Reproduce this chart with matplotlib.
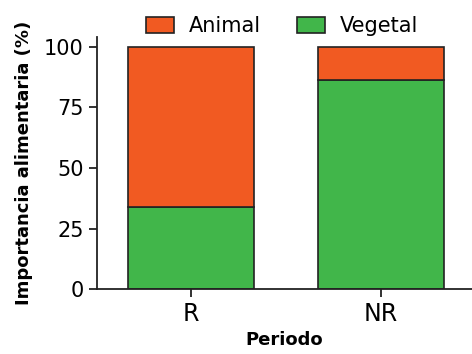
import matplotlib
matplotlib.use("Agg")
import matplotlib.pyplot as plt

periodos = ["R", "NR"]
vegetal = [34.0, 86.5]
animal = [66.0, 13.5]

c_animal = "#F15A22"
c_vegetal = "#41B64A"

fig = plt.figure(figsize=(4.72, 3.54), dpi=100)
ax = fig.add_axes([0.2055, 0.1836, 0.7945, 0.711])

x = range(len(periodos))
ax.bar(x, vegetal, width=0.66, color=c_vegetal, edgecolor="#222222", linewidth=1.2, label="Vegetal")
ax.bar(x, animal, width=0.66, bottom=vegetal, color=c_animal, edgecolor="#222222", linewidth=1.2, label="Animal")

ax.set_xlim(-0.495, 1.48)
ax.set_ylim(0, 104)
ax.set_yticks([0, 25, 50, 75, 100])
ax.set_xticks(list(x))
ax.set_xticklabels(periodos)

for s in ["top", "right"]:
	ax.spines[s].set_visible(False)
for s in ["left", "bottom"]:
	ax.spines[s].set_linewidth(1.3)
	ax.spines[s].set_color("#222222")

ax.tick_params(axis="both", width=1.3, length=6, color="#222222")
ax.tick_params(axis="y", labelsize=15, pad=3.5)
ax.tick_params(axis="x", labelsize=17, pad=3)

ax.set_ylabel("Importancia alimentaria (%)", fontsize=13, fontweight="bold", labelpad=8)
ax.set_xlabel("Periodo", fontsize=13, fontweight="bold", labelpad=4)

h, l = ax.get_legend_handles_labels()
fig.legend(h[::-1], l[::-1], loc="center", bbox_to_anchor=(0.598, 0.926), ncol=2,
	frameon=False, fontsize=15, handlelength=1.33, handleheight=0.76, columnspacing=1.76,
	handletextpad=0.7, borderpad=0.2)

fig.savefig("out.png", dpi=100)
